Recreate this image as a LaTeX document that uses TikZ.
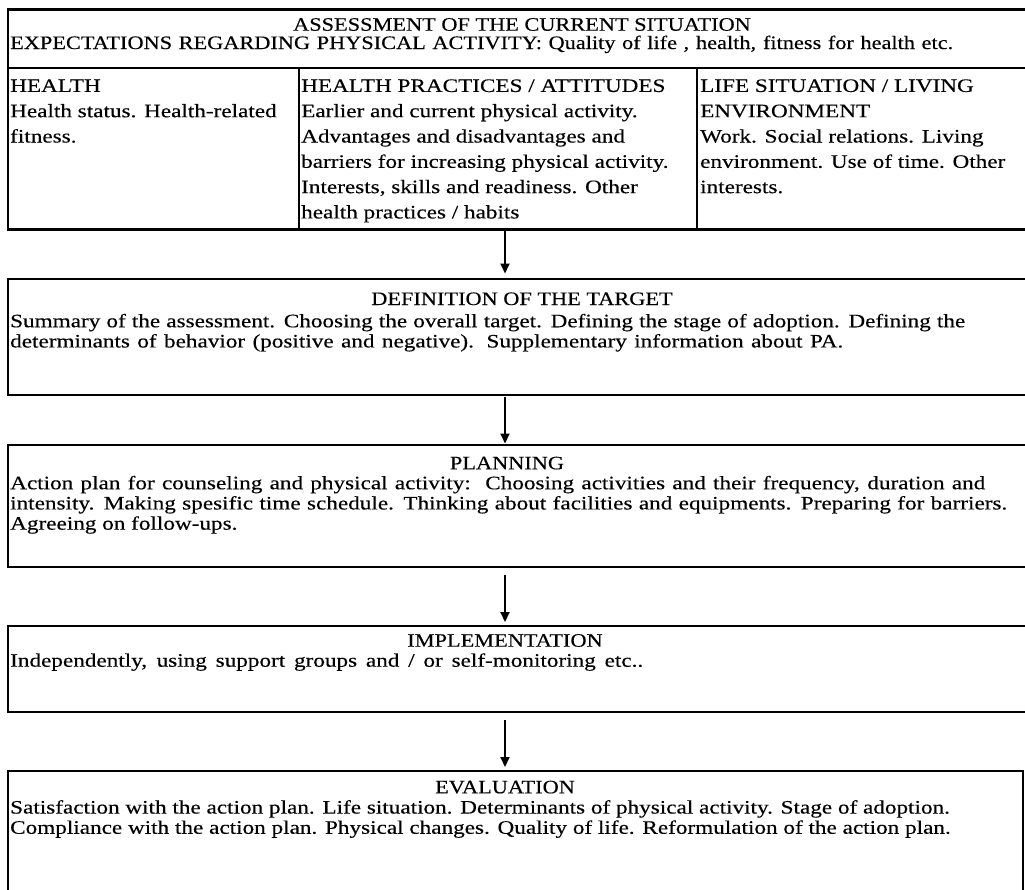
\documentclass[tikz,border=0pt]{standalone}
\usepackage{fontspec}
\setmainfont{Liberation Serif}[FakeStretch=1.22,FakeBold=0.3]
\newfontfamily\capsface{Liberation Serif}[FakeStretch=1.175,FakeBold=0.3]
\usetikzlibrary{arrows.meta}
\newcommand\bodyfont{\fontsize{19}{20.2}\selectfont}
\newcommand\headfont{\capsface\fontsize{19}{20.2}\selectfont}
\newcommand\colfont{\fontsize{19}{25.3}\selectfont}
\begin{document}
\begin{tikzpicture}[x=1pt,y=-1pt,
  frame/.style={draw, line width=2.2pt, rectangle, inner sep=0pt, outer sep=0pt, anchor=north west},
  head/.style={inner sep=0pt, anchor=base, font=\headfont},
  line/.style={inner sep=0pt, anchor=base west, font=\bodyfont},
  body/.style={inner sep=0pt, anchor=north west, align=left, font=\bodyfont},
  colbody/.style={inner sep=0pt, anchor=north west, align=left, font=\colfont},
  arr/.style={line width=2pt, -{Triangle[length=10pt,width=9pt]}}]
\useasboundingbox (0,0) rectangle (1025,889);
\clip (0,0) rectangle (1025,889);

% frames
\node[frame, minimum width=1030pt, minimum height=58.5pt] (hdr) at (8,9.5) {};
\node[frame, minimum width=291pt, minimum height=161.5pt] (c1) at (8,68) {};
\node[frame, minimum width=398pt, minimum height=161.5pt] (c2) at (299,68) {};
\node[frame, minimum width=341pt, minimum height=161.5pt] (c3) at (697,68) {};
\node[frame, minimum width=1030pt, minimum height=116pt] (def) at (8,279) {};
\node[frame, minimum width=1030pt, minimum height=122pt] (plan) at (8,445) {};
\node[frame, minimum width=1030pt, minimum height=86pt] (impl) at (8,626) {};
\node[frame, minimum width=1015pt, minimum height=200pt] (eval) at (8,771) {};

% header texts
\node[head] (hdrA) at (522,30.7) {ASSESSMENT OF THE CURRENT SITUATION};
\node[line, font=\headfont] (hdrB) at (10,49) {\makebox[943pt][s]{EXPECTATIONS REGARDING PHYSICAL ACTIVITY: Quality of life , health, fitness for health etc.}};

\node[colbody] (c1t) at (10,74) {\strut HEALTH\\Health status. Health-related\\fitness.};
\node[colbody] (c2t) at (301,74) {\strut HEALTH PRACTICES / ATTITUDES\\Earlier and current physical activity.\\Advantages and disadvantages and\\barriers for increasing physical activity.\\Interests, skills and readiness. Other\\health practices / habits};
\node[colbody] (c3t) at (700,74) {\strut LIFE SITUATION / LIVING\\ENVIRONMENT\\Work. Social relations. Living\\environment. Use of time. Other\\interests.};

\node[head] (defH) at (522,305) {DEFINITION OF THE TARGET};
\node[body] (defT) at (10,312.9) {\strut\makebox[955pt][s]{Summary of the assessment. Choosing the overall target. Defining the stage of adoption. Defining the}\\\makebox[833pt][s]{determinants of behavior (positive and negative). Supplementary information about PA.}};

\node[head] (planH) at (507,469.3) {PLANNING};
\node[body] (planT) at (10,474.9) {\strut\makebox[975pt][s]{Action plan for counseling and physical activity:\ \ Choosing activities and their frequency, duration and}\\\makebox[997pt][s]{intensity. Making spesific time schedule. Thinking about facilities and equipments. Preparing for barriers.}\\Agreeing on follow-ups.};

\node[head] (implH) at (505,646.7) {IMPLEMENTATION};
\node[line] (implT) at (10,666.7) {\makebox[633pt][s]{Independently, using support groups and / or self-monitoring etc..}};

\node[head] (evalH) at (505,793.3) {EVALUATION};
\node[body] (evalT) at (10,799.2) {\strut Satisfaction with the action plan. Life situation. Determinants of physical activity. Stage of adoption.\\Compliance with the action plan. Physical changes. Quality of life. Reformulation of the action plan.};

% arrows
\coordinate (ax) at (505,0);
\draw[arr, shorten >=5.5pt] (c2.south -| ax) -- (def.north -| ax);
\draw[arr, shorten <=2pt, shorten >=1.5pt] (def.south -| ax) -- (plan.north -| ax);
\draw[arr, shorten <=8pt, shorten >=4pt] (plan.south -| ax) -- (impl.north -| ax);
\draw[arr, shorten <=8pt, shorten >=4pt] (impl.south -| ax) -- (eval.north -| ax);
\end{tikzpicture}
\end{document}
